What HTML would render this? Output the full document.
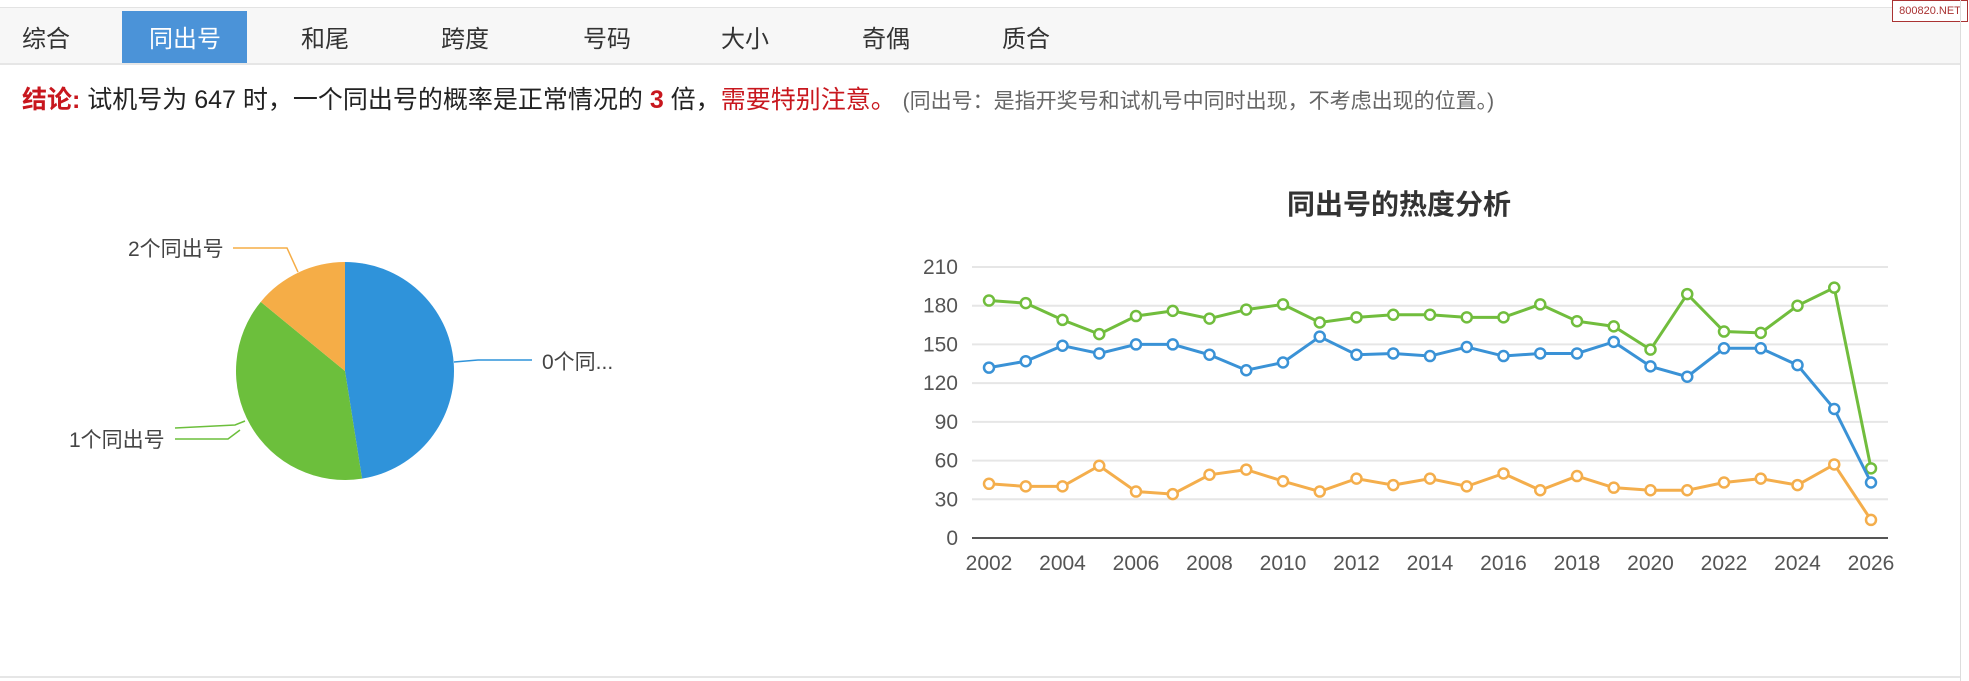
<!DOCTYPE html>
<html><head><meta charset="utf-8"><style>
body{margin:0;width:1969px;height:681px;background:#fff;position:relative;overflow:hidden;font-family:"Liberation Sans","Noto Sans CJK SC",sans-serif;}
.bar{position:absolute;left:0;top:7px;width:1960px;height:55px;background:#f7f7f7;border-top:1px solid #e3e3e3;border-bottom:2px solid #e6e6e6;}
.tab{position:absolute;top:0;height:55px;line-height:64px;font-size:24px;color:#333;transform:translateX(-50%);}
.act{position:absolute;left:122px;top:3px;width:125px;height:52px;background:#4b93d8;}
.wm{position:absolute;left:1892px;top:0;width:74px;height:20px;border:1px solid #a33;background:#fff;color:#a33;font-size:11px;line-height:20px;text-align:center;}
.concl{position:absolute;left:22px;top:80px;font-size:25px;color:#222;white-space:nowrap;}
.r{color:#c8171e}.g{color:#666;font-size:21px}
</style></head><body>
<div class="bar">
<div class="act"></div>
<div class="tab" style="left:46px">综合</div>
<div class="tab" style="left:185px;color:#fff">同出号</div>
<div class="tab" style="left:325px">和尾</div>
<div class="tab" style="left:465px">跨度</div>
<div class="tab" style="left:607px">号码</div>
<div class="tab" style="left:745px">大小</div>
<div class="tab" style="left:886px">奇偶</div>
<div class="tab" style="left:1026px">质合</div>
</div>
<div class="wm">800820.NET</div>
<div style="position:absolute;left:1960px;top:0;width:1px;height:681px;background:#ddd"></div>
<div style="position:absolute;left:0;top:676px;width:1960px;height:2px;background:#e6e6e6"></div>
<div class="concl"><b class="r">结论:</b> 试机号为 647 时，一个同出号的概率是正常情况的 <b class="r">3</b> 倍，<span class="r">需要特别注意。</span> <span class="g">(同出号：是指开奖号和试机号中同时出现，不考虑出现的位置。)</span></div>
<svg id="s" width="1969" height="681" style="position:absolute;left:0;top:0" font-family="Liberation Sans, Noto Sans CJK SC, sans-serif"></svg>
<script>
var s=document.getElementById('s'),h='';
var cx=345,cy=371,R=109;
function pt(a){a=a*Math.PI/180;return [cx+R*Math.sin(a),cy-R*Math.cos(a)];}
function sl(a0,a1,c){var p=pt(a0),q=pt(a1);h+='<path d="M'+cx+','+cy+'L'+p+'A'+R+','+R+' 0 '+((a1-a0)>180?1:0)+' 1 '+q+'Z" fill="'+c+'"/>';}
sl(0,171,'#2f93da');sl(171,309.4,'#6cbf3c');sl(309.4,360,'#f5ad47');
h+='<polyline points="454,362 478,360 532,360" fill="none" stroke="#2f93da" stroke-width="1.5"/>';
h+='<polyline points="233,248 287,248 298,272" fill="none" stroke="#f5ad47" stroke-width="1.5"/>';
h+='<polyline points="175,428 235,425 245,421" fill="none" stroke="#6cbf3c" stroke-width="1.5"/>';
h+='<polyline points="175,439 228,439 240,430" fill="none" stroke="#6cbf3c" stroke-width="1.5"/>';
h+='<text x="542" y="369" font-size="21" fill="#444">0个同...</text>';
h+='<text x="128" y="256" font-size="21" fill="#444">2个同出号</text>';
h+='<text x="69" y="447" font-size="21" fill="#444">1个同出号</text>';
h+='<text x="1399" y="214" font-size="28" font-weight="bold" fill="#333" text-anchor="middle">同出号的热度分析</text>';
function Y(v){return 538-v*(271/210);}
function X(i){return 989+i*36.75;}
for(var v=0;v<=210;v+=30){var y=Y(v);h+='<line x1="972" x2="1888" y1="'+y+'" y2="'+y+'" stroke="'+(v?'#e6e6e6':'#555')+'" stroke-width="2"/>';h+='<text x="958" y="'+(y+7)+'" font-size="21" fill="#555" text-anchor="end">'+v+'</text>';}
for(var i=0;i<=24;i+=2)h+='<text x="'+X(i)+'" y="570" font-size="21" fill="#555" text-anchor="middle">'+(2002+i)+'</text>';
var G=[184,182,169,158,172,176,170,177,181,167,171,173,173,171,171,181,168,164,146,189,160,159,180,194,54];
var B=[132,137,149,143,150,150,142,130,136,156,142,143,141,148,141,143,143,152,133,125,147,147,134,100,43];
var O=[42,40,40,56,36,34,49,53,44,36,46,41,46,40,50,37,48,39,37,37,43,46,41,57,14];
function ser(d,c){var p=d.map(function(v,i){return X(i)+','+Y(v)}).join(' ');h+='<polyline points="'+p+'" fill="none" stroke="'+c+'" stroke-width="3"/>';d.forEach(function(v,i){h+='<circle cx="'+X(i)+'" cy="'+Y(v)+'" r="5" fill="#fff" stroke="'+c+'" stroke-width="2.5"/>';});}
ser(O,'#f4ae4c');ser(G,'#71bd3d');ser(B,'#3a92d6');
s.innerHTML=h;
</script>
</body></html>
